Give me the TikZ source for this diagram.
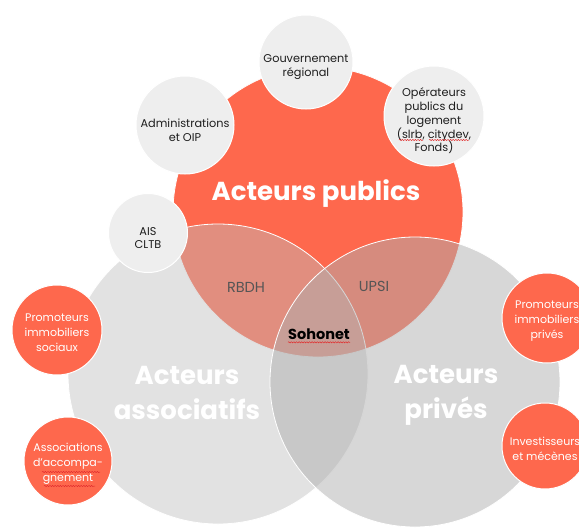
\documentclass[tikz,border=0pt]{standalone}
\usepackage{fontspec}
\setmainfont{Poppins}
\usetikzlibrary{calc,decorations.pathmorphing}

\definecolor{coral}{RGB}{254,104,77}
\definecolor{lightdisc}{RGB}{238,238,238}
\definecolor{greyA}{RGB}{190,190,190}
\definecolor{greyB}{RGB}{175,175,175}
\definecolor{midtext}{RGB}{85,85,85}
\definecolor{inktext}{RGB}{30,30,30}
\definecolor{spellred}{RGB}{225,45,45}

\tikzset{
  disc/.style={circle, inner sep=0pt, draw=white, line width=1pt},
  bigset/.style={disc, line width=0.8pt},
  greydisc/.style={disc, fill=lightdisc},
  coraldisc/.style={disc, fill=coral},
  bigtitle/.style={text=white, align=center, inner sep=0pt,
    font=\fontsize{26}{35}\selectfont\bfseries},
  overlaptext/.style={text=midtext, inner sep=0pt, font=\fontsize{14.5}{18}\selectfont},
  greytext/.style={text=inktext, align=center, inner sep=0pt, yshift=-5pt,
    font=\fontsize{11.3}{13.8}\selectfont},
  coraltext/.style={text=white, align=center, inner sep=0pt, yshift=-3pt,
    font=\fontsize{11}{15}\selectfont},
  squiggle/.style={draw=spellred, line width=0.5pt, decorate,
    decoration={snake, amplitude=0.6pt, segment length=2.6pt}},
}

\begin{document}
\begin{tikzpicture}[x=1pt,y=-1pt]
\useasboundingbox (0,0) rectangle (579,528);
\clip (0,0) rectangle (579,528);

% the three actor groups
\node[bigset, fill=coral, minimum size=290pt] (pub) at (318,212) {};
\node[bigset, fill=greyA, fill opacity=0.45, minimum size=300pt] (assoc) at (218,374) {};
\node[bigset, fill=greyB, fill opacity=0.5, minimum size=290pt] (priv) at (415,382) {};

% group titles
\node[bigtitle] (tpub) at (316,194) {Acteurs publics};
\node[bigtitle] (tassoc) at (187,393) {Acteurs\\associatifs};
\node[bigtitle] (tpriv) at (446,395) {Acteurs\\privés};

% overlap labels
\node[overlaptext] (rbdh) at (246,287) {RBDH};
\node[overlaptext] (upsi) at (374,286) {UPSI};
\node[overlaptext, text=black, font=\fontsize{14.5}{18}\selectfont\bfseries] (soho) at (319,334) {Sohonet};
\draw[squiggle] ([yshift=-3pt]soho.base west) -- ([yshift=-3pt]soho.base east);

% public actors
\node[greydisc, minimum size=94pt] (gouv) at (306,62) {};
\node[greytext] (tgouv) at (gouv.center) {Gouvernement\\régional};
\node[greydisc, minimum size=98pt] (admin) at (185,125) {};
\node[greytext] (tadmin) at (admin.center) {Administrations\\et OIP};
\node[greydisc, minimum size=100pt] (oper) at (434,116) {};
\node[greytext] (toper) at (oper.center) {Opérateurs\\publics du\\logement\\(slrb, citydev,\\Fonds)};
\draw[squiggle] ($(toper.center)+(-35,19)$) -- ($(toper.center)+(-11,19)$);
\draw[squiggle] ($(toper.center)+(-5,19)$) -- ($(toper.center)+(35,19)$);
\node[greydisc, minimum size=79pt] (ais) at (148,233) {};
\node[greytext] (tais) at (ais.center) {AIS\\CLTB};

% associative actors
\node[coraldisc, minimum size=90pt] (psoc) at (57,330) {};
\node[coraltext] (tpsoc) at (psoc.center) {Promoteurs\\immobiliers\\sociaux};
\node[coraldisc, minimum size=88pt] (accomp) at (68,461) {};
\node[coraltext] (taccomp) at (accomp.center) {Associations\\d'accompa-\\gnement};
\draw[squiggle] ($(taccomp.center)+(-26,8)$) -- ($(taccomp.center)+(32,8)$);
\draw[squiggle] ($(taccomp.center)+(-24,22)$) -- ($(taccomp.center)+(27,22)$);

% private actors
\node[coraldisc, minimum size=90pt] (ppriv) at (547,318) {};
\node[coraltext] (tppriv) at (ppriv.center) {Promoteurs\\immobiliers\\privés};
\node[coraldisc, minimum size=86pt] (invest) at (545,446) {};
\node[coraltext] (tinvest) at (invest.center) {Investisseurs\\et mécènes};
\end{tikzpicture}
\end{document}
